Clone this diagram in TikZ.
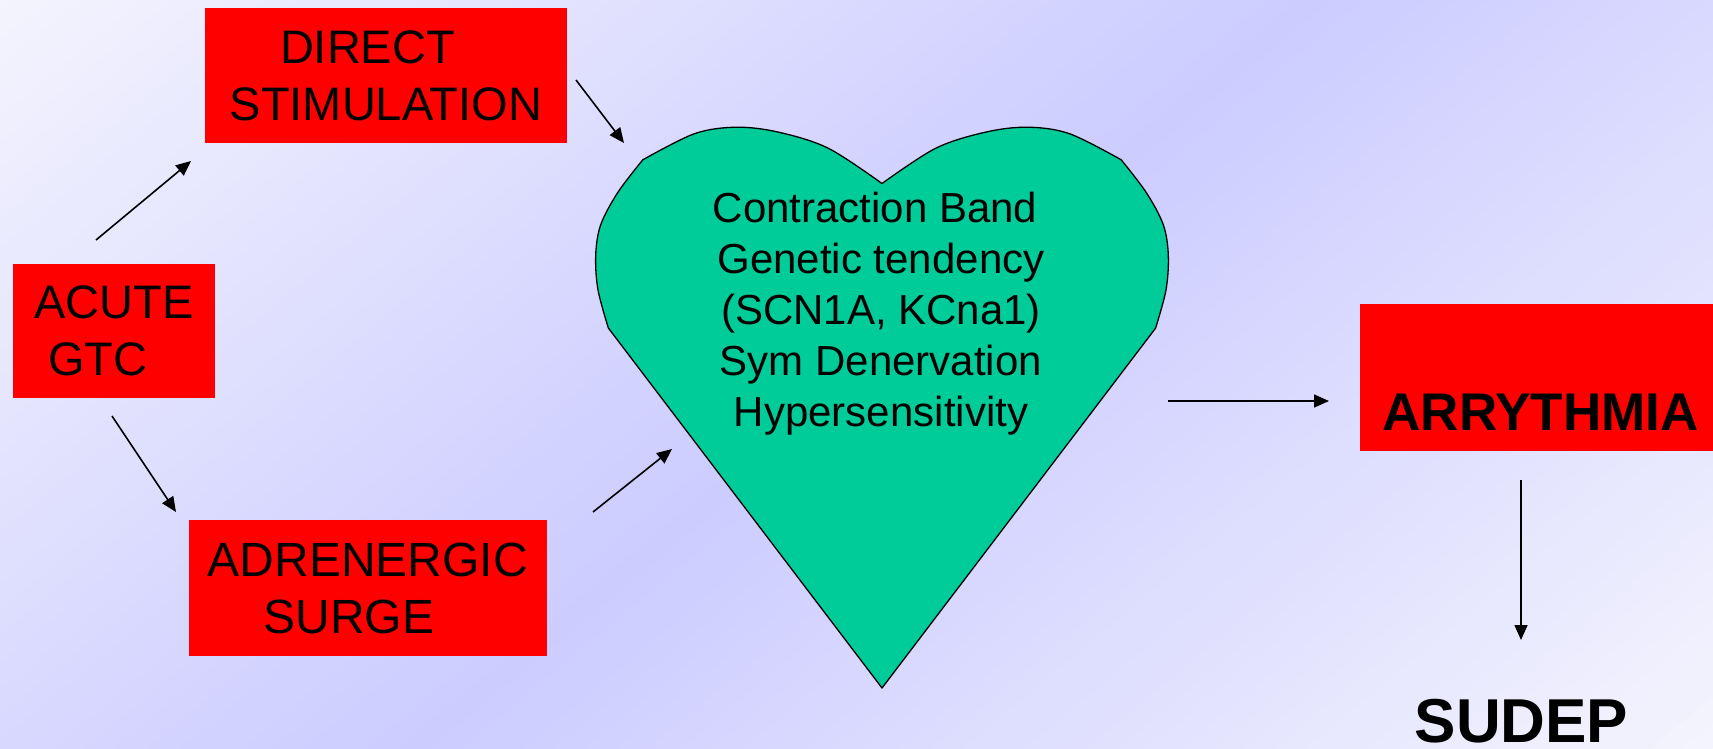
\documentclass[tikz,border=0pt]{standalone}
\usepackage{fontspec}
\setmainfont{Liberation Sans}
\usetikzlibrary{arrows.meta}
\definecolor{bglight}{HTML}{F4F4FE}
\definecolor{bgdark}{HTML}{CCCCFF}
\definecolor{boxred}{HTML}{FF0000}
\definecolor{heartgreen}{HTML}{00CC99}
\tikzset{
  redbox/.style={fill=boxred, inner sep=0pt, align=center, font=\fontsize{47}{57}\selectfont},
  arr/.style={line width=1.6pt, -{Triangle[length=15pt,width=13pt]}},
  heartshape/.style={fill=heartgreen, draw=black, line width=1.3pt, line join=round},
  hearttxt/.style={font=\fontsize{42}{51}\selectfont, align=center, inner sep=0pt},
}
\begin{document}
\begin{tikzpicture}
\useasboundingbox (0,0) rectangle (1713pt,-748pt);
\begin{scope}
  \clip (0,0) rectangle (1713pt,-748pt);
  \begin{scope}[shift={(856.5pt,-374pt)}, rotate=39.7]
    \foreach \i in {0,...,83}{
      \pgfmathsetmacro{\sa}{-835+\i*20}
      \pgfmathsetmacro{\sb}{\sa+21}
      \pgfmathsetmacro{\tt}{min(100,abs(\sa+10)/835*100)}
      \fill[bglight!\tt!bgdark] (-1150pt,\sa pt) rectangle (1150pt,\sb pt);
    }
  \end{scope}
\end{scope}
\begin{scope}[x=1pt,y=-1pt]
  % heart
  \draw[heartshape] (882,688) -- (608.4,328.1)
    -- plot[smooth,tension=0.55] coordinates {(608.4,328.1) (598,289.9) (595.7,255.4) (600.7,224.8) (617.9,192.3) (642.8,159.8)}
    -- plot[smooth,tension=0.55] coordinates {(642.8,159.8) (694.5,133.7) (736.6,127.2) (778.7,132.2) (828.4,148.3) (882,183.5)}
    -- plot[smooth,tension=0.55] coordinates {(882,183.5) (935.6,148.3) (985.3,132.2) (1027.4,127.2) (1069.5,133.7) (1121.2,159.8)}
    -- plot[smooth,tension=0.55] coordinates {(1121.2,159.8) (1146.1,192.3) (1163.3,224.8) (1168.3,255.4) (1166,289.9) (1155.6,328.1)}
    -- cycle;
  \node[hearttxt] (hearttext) at (881,314) {Contraction Band\hbox to 12pt{}\\Genetic tendency\\(SCN1A, KCna1)\\Sym Denervation\\Hypersensitivity};

  % boxes
  \node[redbox, minimum width=362pt, minimum height=135pt] (direct) at (386,75.5) {DIRECT\hbox to 37pt{}\\STIMULATION};
  \node[redbox, minimum width=202pt, minimum height=134pt] (acute) at (114,331) {ACUTE\\GTC\hbox to 32pt{}};
  \node[redbox, minimum width=358pt, minimum height=136pt, font=\fontsize{48}{57}\selectfont] (adren) at (368,588) {ADRENERGIC\\SURGE\hbox to 38pt{}};
  \node[redbox, minimum width=353pt, minimum height=147pt, font=\bfseries\fontsize{53}{60}\selectfont] (arry) at (1536.5,377.5) {\hbox to 8pt{}\raisebox{-52.5pt}[0pt][0pt]{ARRYTHMIA}};
  \node[font=\bfseries\fontsize{62}{70}\selectfont, anchor=base, inner sep=0pt] (sudep) at (1521.5,742) {SUDEP};

  % arrow end points
  \coordinate (a1s) at (96,240);    \coordinate (a1e) at (191,161);
  \coordinate (a2s) at (576,80);    \coordinate (a2e) at (624,143);
  \coordinate (a3s) at (112,416);   \coordinate (a3e) at (176,512);
  \coordinate (a4s) at (593,512);   \coordinate (a4e) at (672,449);
  \coordinate (a5s) at (1168,401);  \coordinate (a5e) at (1329,401);
  \coordinate (a6s) at (1521,480);  \coordinate (a6e) at (1521,640);

  \draw[arr] (a1s) -- (a1e);
  \draw[arr] (a2s) -- (a2e);
  \draw[arr] (a3s) -- (a3e);
  \draw[arr] (a4s) -- (a4e);
  \draw[arr] (a5s) -- (a5e);
  \draw[arr] (a6s) -- (a6e);
\end{scope}
\end{tikzpicture}
\end{document}
